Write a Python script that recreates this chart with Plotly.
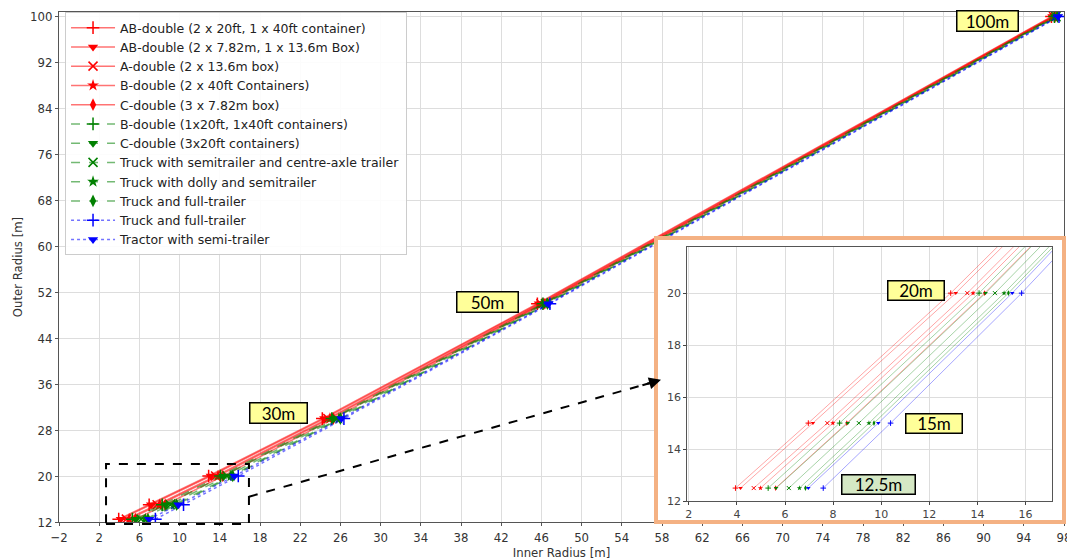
import plotly.graph_objects as go

# ---------------- data ----------------
outer_radius = [12.5, 15, 20, 30, 50, 100]

vehicle_names = [
    "AB-double (2 x 20ft, 1 x 40ft container)",
    "AB-double (2 x 7.82m, 1 x 13.6m Box)",
    "A-double (2 x 13.6m box)",
    "B-double (2 x 40ft Containers)",
    "C-double (3 x 7.82m box)",
    "B-double (1x20ft, 1x40ft containers)",
    "C-double (3x20ft containers)",
    "Truck with semitrailer and centre-axle trailer",
    "Truck with dolly and semitrailer",
    "Truck and full-trailer",
    "Truck and full-trailer",
    "Tractor with semi-trailer",
]

inner_ab_double_containers = [3.94, 6.97, 12.89, 24.2, 45.6, 96.75]
inner_ab_double_box = [4.15, 7.16, 13.10, 24.4, 45.75, 96.85]
inner_a_double_box = [4.70, 7.76, 13.58, 24.75, 45.95, 96.95]
inner_b_double_40ft = [4.98, 7.99, 13.82, 24.95, 46.05, 97.0]
inner_c_double_box = [5.61, 8.57, 14.30, 25.3, 46.25, 97.1]
inner_b_double_20_40 = [5.30, 8.27, 14.07, 25.15, 46.15, 97.05]
inner_c_double_20ft = [5.63, 8.61, 14.34, 25.35, 46.3, 97.12]
inner_truck_semi_cat = [6.16, 9.07, 14.73, 25.6, 46.4, 97.2]
inner_truck_dolly_semi = [6.60, 9.49, 15.11, 25.85, 46.55, 97.3]
inner_truck_full_green = [6.85, 9.70, 15.29, 26.0, 46.6, 97.35]
inner_truck_full_blue = [7.59, 10.39, 15.84, 26.35, 46.85, 97.5]
inner_tractor_semi = [6.97, 9.88, 15.45, 26.1, 46.7, 97.4]

inner_series = [
    inner_ab_double_containers, inner_ab_double_box, inner_a_double_box,
    inner_b_double_40ft, inner_c_double_box, inner_b_double_20_40,
    inner_c_double_20ft, inner_truck_semi_cat, inner_truck_dolly_semi,
    inner_truck_full_green, inner_truck_full_blue, inner_tractor_semi,
]

color_group = ["red"] * 5 + ["green"] * 5 + ["blue"] * 2
marker_kind = ["plus", "tri", "x", "star", "diamond",
               "plus", "tri", "x", "star", "diamond",
               "plus", "tri"]

radius_labels = ["100m", "50m", "30m"]
inset_labels = ["20m", "15m", "12.5m"]

# ---------------- styles ----------------
solid = {"red": "#ff0000", "green": "#008000", "blue": "#0000ff"}
faded = {"red": "rgba(255,0,0,0.55)", "green": "rgba(0,128,0,0.55)", "blue": "rgba(0,0,255,0.55)"}
faded_inset = {"red": "rgba(255,0,0,0.35)", "green": "rgba(0,128,0,0.35)", "blue": "rgba(0,0,255,0.35)"}
dash = {"red": "solid", "green": "dash", "blue": "dot"}
symbol = {"plus": "cross-thin", "tri": "triangle-down", "x": "x-thin",
          "star": "star", "diamond": "diamond-tall"}

fig = go.Figure()

for name, xs, grp, mk in zip(vehicle_names, inner_series, color_group, marker_kind):
    thin = mk in ("plus", "x")
    fig.add_trace(go.Scatter(
        x=xs, y=outer_radius, name=name, mode="lines+markers",
        line=dict(color=faded[grp], width=1.5, dash=dash[grp]),
        marker=dict(symbol=symbol[mk], size=9 if thin else 9, color=solid[grp],
                    line=dict(width=1.5 if thin else 0, color=solid[grp])),
        xaxis="x", yaxis="y", showlegend=True,
    ))

# frame subplot (white background with orange border)
fig.add_trace(go.Scatter(x=[None], y=[None], xaxis="x2", yaxis="y2",
                         showlegend=False, hoverinfo="skip"))

for name, xs, grp, mk in zip(vehicle_names, inner_series, color_group, marker_kind):
    thin = mk in ("plus", "x")
    fig.add_trace(go.Scatter(
        x=xs, y=outer_radius, name=name, mode="lines+markers",
        line=dict(color=faded_inset[grp], width=1, dash="solid"),
        marker=dict(symbol=symbol[mk], size=4, color=solid[grp],
                    line=dict(width=1 if thin else 0, color=solid[grp])),
        xaxis="x3", yaxis="y3", showlegend=False,
    ))

cond = "DejaVu Sans Condensed, DejaVu Sans"
axis_font = dict(family=cond, size=13, color="#333")

fig.update_layout(
    width=1075, height=559,
    # the page adds an 8px body margin, so the margins are offset to keep the plot area in place
    margin=dict(l=51, r=19, t=4, b=45),
    paper_bgcolor="white", plot_bgcolor="white",
    font=dict(family="DejaVu Sans", size=13, color="#333"),
    xaxis=dict(range=[-2, 98], tick0=-2, dtick=4, showgrid=True, gridcolor="#dddddd",
               showline=True, linecolor="#555", mirror=True, ticks="outside", ticklen=3,
               tickcolor="#555", tickfont=axis_font, zeroline=False, automargin=False,
               title=dict(text="Inner Radius [m]", font=dict(family=cond, size=13), standoff=0)),
    yaxis=dict(range=[12, 100.8], tick0=12, dtick=8, showgrid=True, gridcolor="#dddddd",
               showline=True, linecolor="#555", mirror=True, ticks="outside", ticklen=3,
               tickcolor="#555", tickfont=axis_font, zeroline=False, automargin=False,
               title=dict(text="Outer Radius [m]", font=dict(family=cond, size=13), standoff=4)),
    xaxis2=dict(domain=[0.596, 0.998], anchor="y2", range=[0, 1], showgrid=False,
                showticklabels=False, ticks="", zeroline=False, showline=True,
                linecolor="#f4b183", linewidth=4, mirror=True),
    yaxis2=dict(domain=[0.004, 0.553], anchor="x2", range=[0, 1], showgrid=False,
                showticklabels=False, ticks="", zeroline=False, showline=True,
                linecolor="#f4b183", linewidth=4, mirror=True),
    xaxis3=dict(domain=[0.625, 0.988], anchor="y3", range=[1.93, 17.1], tick0=2, dtick=2,
                showgrid=True, gridcolor="#dddddd", showline=True, linecolor="#555",
                mirror=True, ticks="outside", ticklen=3, zeroline=False,
                tickfont=dict(family="DejaVu Sans", size=11, color="#444")),
    yaxis3=dict(domain=[0.041, 0.539], anchor="x3", range=[12, 21.77], tick0=12, dtick=2,
                showgrid=True, gridcolor="#dddddd", showline=True, linecolor="#555",
                mirror=True, ticks="outside", ticklen=3, zeroline=False,
                tickfont=dict(family="DejaVu Sans", size=11, color="#444")),
    legend=dict(x=0.006, y=1.0, xanchor="left", yanchor="top",
                bgcolor="rgba(255,255,255,0.9)", bordercolor="#cccccc", borderwidth=1,
                font=dict(family="DejaVu Sans", size=12.5, color="#222"),
                tracegroupgap=0, itemwidth=44),
)

box = dict(bgcolor="#ffff99", bordercolor="black", borderwidth=1.5, borderpad=1,
           font=dict(family="Lato", size=17, color="black"), showarrow=False)

main_pos = [(90.4, 99.3, 58), (40.6, 50.3, 58), (19.8, 31.0, 54)]
for lab, (xx, yy, w) in zip(radius_labels, main_pos):
    fig.add_annotation(text=lab, x=xx, y=yy, xref="x", yref="y", width=w, height=17, **box)

inset_pos = [(11.45, 20.1, 53, "#ffff99"), (12.2, 14.98, 53, "#ffff99"), (9.89, 12.65, 70, "#d5e8c4")]
for lab, (xx, yy, w, bg) in zip(inset_labels, inset_pos):
    b = dict(box)
    b["bgcolor"] = bg
    fig.add_annotation(text=lab, x=xx, y=yy, xref="x3", yref="y3", width=w, height=16, **b)

# dashed zoom rectangle (paper coords so the lower edge is not clipped) and dashed arrow
fig.add_shape(type="rect", xref="paper", yref="paper", x0=0.0468, x1=0.189, y0=-0.004, y1=0.1137,
              line=dict(color="black", width=2, dash="dash"), layer="above")
fig.add_shape(type="line", xref="x", yref="y", x0=16.9, y0=16.4, x1=56.8, y1=36.2,
              line=dict(color="black", width=2, dash="dash"), layer="above")
fig.add_annotation(x=57.9, y=36.75, ax=55.9, ay=35.75, xref="x", yref="y",
                   axref="x", ayref="y", text="", showarrow=True,
                   arrowhead=2, arrowsize=1.2, arrowwidth=2, arrowcolor="black")

fig.write_html("out.html")
